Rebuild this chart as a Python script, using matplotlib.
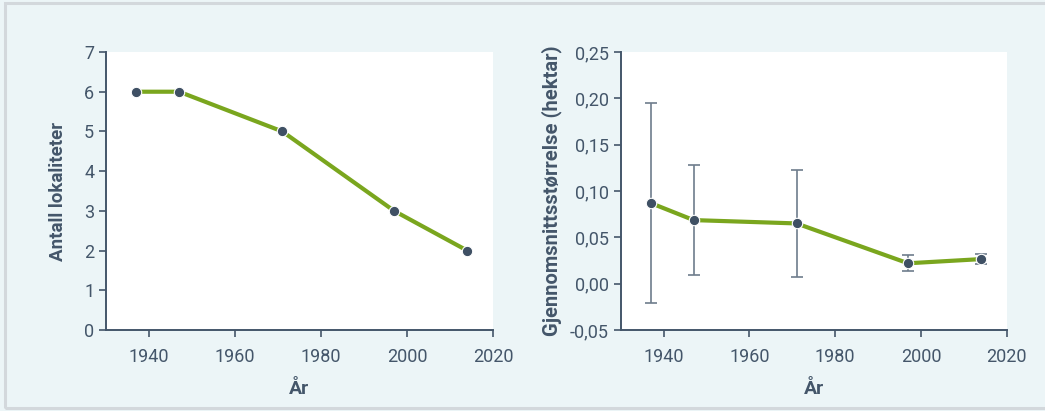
import matplotlib
matplotlib.use("Agg")
import matplotlib.pyplot as plt
from matplotlib.patches import Rectangle

years = [1937, 1947, 1971, 1997, 2014]
antall = [6, 6, 5, 3, 2]
snitt = [0.087, 0.0686, 0.065, 0.022, 0.0265]
snitt_err = [0.108, 0.0597, 0.058, 0.0085, 0.0055]

left_ticks = [0, 1, 2, 3, 4, 5, 6, 7]
right_ticks = [-0.05, 0.0, 0.05, 0.10, 0.15, 0.20, 0.25]
right_ticklabels = ["-0,05", "0,00", "0,05", "0,10", "0,15", "0,20", "0,25"]
x_ticks = [1940, 1960, 1980, 2000, 2020]

plt.rcParams['font.family'] = ['Roboto', 'DejaVu Sans']
txt = '#44566a'
bg = '#ecf5f7'
green = '#7aa61e'
mk = '#3f5064'

fig = plt.figure(figsize=(10.45, 4.11), dpi=100, facecolor=bg)
fig.patches.append(Rectangle((5/1045, 3/411), 1.2, 1 - 6/411, transform=fig.transFigure,
                             fill=False, edgecolor='#d3d8dc', linewidth=2.2, zorder=0))

ax1 = fig.add_axes([106/1045, 1 - 330/411, 387/1045, 278/411])
ax2 = fig.add_axes([620.7/1045, 1 - 330/411, 386/1045, 278/411])

for ax in (ax1, ax2):
    ax.set_facecolor('white')
    for s in ('top', 'right'):
        ax.spines[s].set_visible(False)
    for s in ('left', 'bottom'):
        ax.spines[s].set_color(txt)
        ax.spines[s].set_linewidth(1.4)
    ax.tick_params(colors=txt, labelsize=13, length=5, width=1.2, direction='out')
    ax.tick_params(axis='x', pad=8)
    ax.set_xlim(1930, 2020)
    ax.set_xticks(x_ticks)
    ax.set_xlabel('År', fontsize=14, fontweight='bold', color=txt, labelpad=10)

ax1.plot(years, antall, color=green, linewidth=3, marker='o', markersize=7.5,
         markerfacecolor=mk, markeredgecolor='white', markeredgewidth=0.8, zorder=3)
ax1.set_ylim(0, 7)
ax1.set_yticks(left_ticks)
ax1.set_ylabel('Antall lokaliteter', fontsize=13.5, fontweight='bold', color=txt, labelpad=12)

ax2.errorbar(years, snitt, yerr=snitt_err, fmt='none', ecolor='#6e7d8c', elinewidth=1.2,
             capsize=4, capthick=1.2, zorder=2)
ax2.plot(years, snitt, color=green, linewidth=3, marker='o', markersize=7.5,
         markerfacecolor=mk, markeredgecolor='white', markeredgewidth=0.8, zorder=3)
ax2.set_ylim(-0.05, 0.25)
ax2.set_yticks(right_ticks)
ax2.set_yticklabels(right_ticklabels)
ax2.set_ylabel('Gjennomsnittsstørrelse (hektar)', fontsize=14.5, fontweight='bold', color=txt, labelpad=6)

fig.savefig('out.png', dpi=100, facecolor=bg)
